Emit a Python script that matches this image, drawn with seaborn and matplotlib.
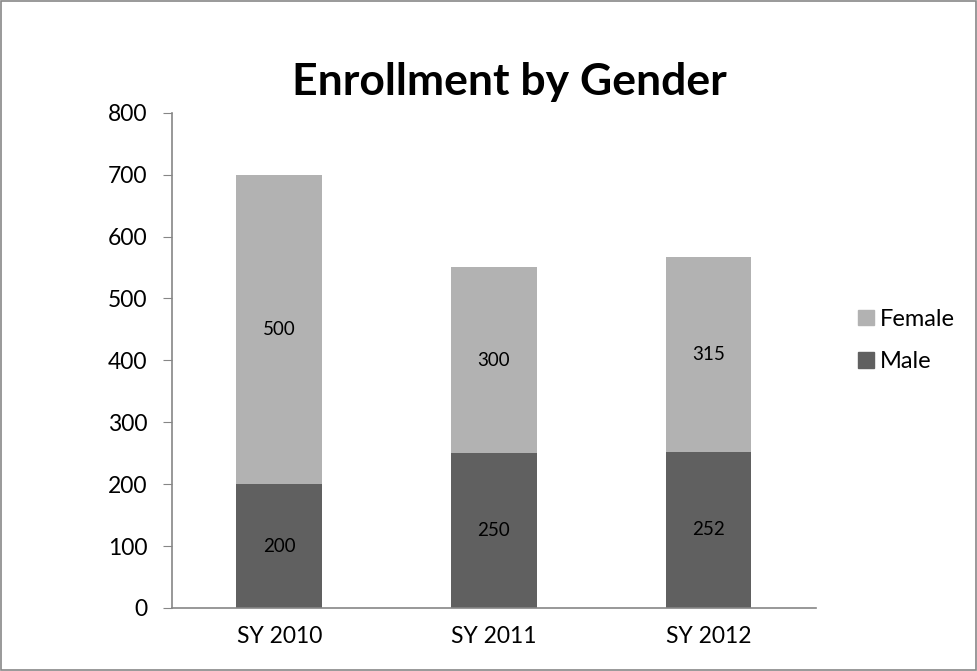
import seaborn as sns
import matplotlib.pyplot as plt
import matplotlib.patches as mpatches
import pandas as pd

sns.set_style("white")
plt.rcParams['font.family'] = ['Lato', 'DejaVu Sans']
plt.rcParams['text.color'] = 'black'

years = ["SY 2010", "SY 2011", "SY 2012"]
male = [200, 250, 252]
female = [500, 300, 315]

male_color = "#606060"
female_color = "#b2b2b2"

df = pd.DataFrame({"year": years, "Male": male, "Female": female})
df["Total"] = df["Male"] + df["Female"]

fig = plt.figure(figsize=(9.77, 6.71), dpi=100)
ax = fig.add_axes([0.176, 0.094, 0.659, 0.738])

# stacked bars: total in light gray, male drawn over it
sns.barplot(data=df, x="year", y="Total", color=female_color, width=0.4,
            saturation=1, linewidth=0, ax=ax)
sns.barplot(data=df, x="year", y="Male", color=male_color, width=0.4,
            saturation=1, linewidth=0, ax=ax)

ax.bar_label(ax.containers[1], labels=[str(v) for v in male],
             label_type="center", fontsize=13.5, color="black")
for i, (m, f) in enumerate(zip(male, female)):
    ax.text(i, m + f / 2, str(f), ha="center", va="center", fontsize=13.5,
            color="black")

ax.set_ylim(0, 800)
ax.set_yticks(range(0, 801, 100))
ax.set_xlim(-0.5, 2.5)
ax.set_xlabel("")
ax.set_ylabel("")

ax.set_xticks([-0.5, 0.5, 1.5, 2.5], minor=True)
ax.tick_params(axis="x", which="major", length=0, labelsize=16.5, pad=13,
               labelcolor="black")
ax.tick_params(axis="x", which="minor", length=6, color="#868686", direction="out")
ax.tick_params(axis="y", length=6.5, color="#868686", direction="out",
               labelsize=16.5, pad=11, left=True, labelcolor="black")

for s in ["top", "right"]:
    ax.spines[s].set_visible(False)
for s in ["left", "bottom"]:
    ax.spines[s].set_color("#868686")
    ax.spines[s].set_linewidth(1.2)

handles = [mpatches.Patch(color=female_color, label="Female"),
           mpatches.Patch(color=male_color, label="Male")]
leg = ax.legend(handles=handles, loc="center left", bbox_to_anchor=(1.0, 0.54),
                frameon=False, fontsize=17, handlelength=0.65, handleheight=0.65,
                handletextpad=0.25, labelspacing=0.9, borderaxespad=1.4)
for t in leg.get_texts():
    t.set_color("black")

fig.suptitle("Enrollment by Gender", x=0.521, y=0.858, va="baseline",
             fontsize=32, fontweight="bold", color="black")

fig.patches.append(mpatches.Rectangle((0.001, 0.001), 0.998, 0.998,
                                      transform=fig.transFigure, fill=False,
                                      edgecolor="#878787", linewidth=1.2))

fig.savefig("out.png", dpi=100)
